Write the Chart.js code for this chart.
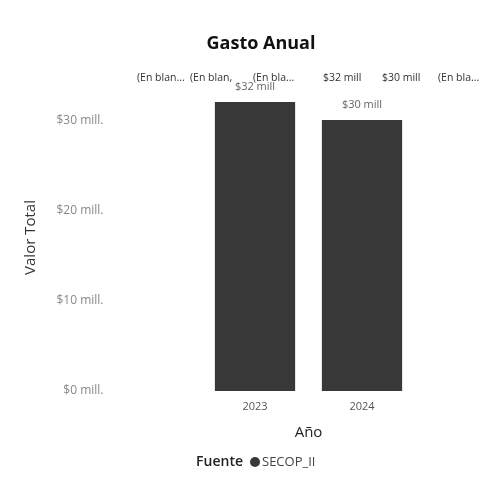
<!DOCTYPE html>
<html>
<head>
<meta charset="utf-8">
<script src="https://cdn.jsdelivr.net/npm/chart.js@4.4.1/dist/chart.umd.min.js"></script>
<style>
  html, body { margin: 0; padding: 0; background: #fff; }
  #wrap { width: 500px; height: 481px; }
</style>
</head>
<body>
<div id="wrap"><canvas id="gastoChart" width="500" height="481"></canvas></div>
<script>
// chart data
const years = ['2023', '2024'];
const valorTotal = [32, 30];            // millones
const yTicks = [0, 10, 20, 30];
const headerLabels = ['(En blan...', '(En blan,', '(En bla...', '$32 mill', '$30 mill', '(En bla...'];
const headerX = [137, 190, 253, 323, 382, 438];
const seriesName = 'SECOP_II';
const legendTitle = 'Fuente';

const barColor = '#383838';
const fontFamily = '"Open Sans", "DejaVu Sans", sans-serif';

// header row of text under the title
const headerPlugin = {
    id: 'headerRow',
    afterDraw(chart) {
        const ctx = chart.ctx;
        ctx.save();
        ctx.font = '10.5px ' + fontFamily;
        ctx.fillStyle = '#333';
        ctx.textAlign = 'left';
        ctx.textBaseline = 'middle';
        headerLabels.forEach((t, i) => ctx.fillText(t, headerX[i], 78));
        ctx.restore();
    }
};

// value labels above bars
const valueLabels = {
    id: 'valueLabels',
    afterDatasetsDraw(chart) {
        const ctx = chart.ctx;
        const meta = chart.getDatasetMeta(0);
        ctx.save();
        ctx.font = '11px ' + fontFamily;
        ctx.fillStyle = '#666';
        ctx.textAlign = 'center';
        ctx.textBaseline = 'middle';
        meta.data.forEach((bar, i) => {
            ctx.fillText('$' + valorTotal[i] + ' mill', bar.x, bar.y - 15);
        });
        ctx.restore();
    }
};

// legend line at the bottom: "Fuente ● SECOP_II"
const bottomLegend = {
    id: 'bottomLegend',
    afterDraw(chart) {
        const ctx = chart.ctx;
        const y = 462;
        ctx.save();
        ctx.textBaseline = 'middle';
        ctx.font = '600 14px ' + fontFamily;
        ctx.fillStyle = '#222';
        ctx.textAlign = 'right';
        ctx.fillText(legendTitle, 243, y);
        ctx.beginPath();
        ctx.arc(255, y, 5, 0, Math.PI * 2);
        ctx.fillStyle = barColor;
        ctx.fill();
        ctx.font = '13px ' + fontFamily;
        ctx.fillStyle = '#444';
        ctx.textAlign = 'left';
        ctx.fillText(chart.data.datasets[0].label, 262, y);
        ctx.restore();
    }
};

const ctx = document.getElementById('gastoChart').getContext('2d');
const gastoChart = new Chart(ctx, {
    type: 'bar',
    data: {
        labels: years,
        datasets: [{
            label: seriesName,
            data: valorTotal,
            backgroundColor: barColor,
            borderWidth: 0,
            categoryPercentage: 1.0,
            barPercentage: 0.75
        }]
    },
    options: {
        responsive: false,
        animation: false,
        layout: { padding: { left: 22, right: 0, top: 0, bottom: 38.8 } },
        plugins: {
            legend: { display: false },
            tooltip: { enabled: false },
            title: {
                display: true,
                text: 'Gasto Anual',
                color: '#111',
                font: { family: fontFamily, size: 18, weight: 'bold' },
                padding: { top: 33, bottom: 29.4 }
            }
        },
        scales: {
            x: {
                grid: { display: false, drawTicks: false },
                border: { display: false },
                ticks: {
                    color: '#555',
                    font: { family: fontFamily, size: 11 },
                    padding: 9
                },
                title: {
                    display: true,
                    text: 'Año',
                    color: '#222',
                    font: { family: fontFamily, size: 15 },
                    padding: { top: 2, bottom: 0 }
                }
            },
            y: {
                min: 0,
                max: 34,
                grid: { display: false, drawTicks: false },
                border: { display: false },
                afterBuildTicks(scale) {
                    scale.ticks = yTicks.map(v => ({ value: v }));
                },
                ticks: {
                    color: '#888',
                    font: { family: fontFamily, size: 12 },
                    padding: 98,
                    callback: v => '$' + v + ' mill.'
                },
                afterFit(scale) {
                    // wide gap between labels and bars, without the tick padding
                    // pushing the plot area in from top and bottom
                    scale.width = 179.5;
                    scale.paddingTop = 0;
                    scale.paddingBottom = 0;
                },
                title: {
                    display: true,
                    text: 'Valor Total',
                    color: '#333',
                    font: { family: fontFamily, size: 15 },
                    padding: { top: 0, bottom: 0 }
                }
            },
            yRight: {
                position: 'right',
                grid: { display: false, drawTicks: false },
                border: { display: false },
                ticks: { display: false },
                afterFit(scale) { scale.width = 84.5; }
            }
        }
    },
    plugins: [headerPlugin, valueLabels, bottomLegend]
});
</script>
</body>
</html>
